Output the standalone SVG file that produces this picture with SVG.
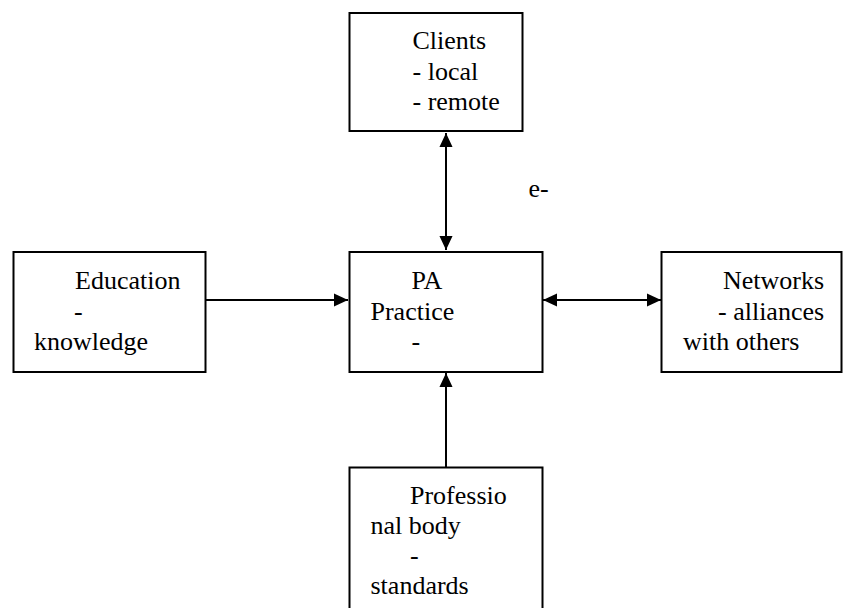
<svg xmlns="http://www.w3.org/2000/svg" width="843" height="608" viewBox="0 0 843 608">
<style>
.box{fill:#fff;stroke:#000;stroke-width:2}
.t{font-family:"Liberation Serif","Times New Roman",serif;font-size:26px;fill:#000}
.c{stroke:#000;stroke-width:2;fill:none}
</style>
<defs>
<marker id="ah" markerWidth="14" markerHeight="14" viewBox="0 0 15 14" refX="15" refY="7" orient="auto-start-reverse" markerUnits="userSpaceOnUse">
<path d="M0,0 L15,7 L0,14 Z" fill="#000"/>
</marker>
</defs>
<rect width="843" height="608" fill="#fff"/>
<g id="connectors">
<line class="c" x1="446" y1="133" x2="446" y2="250" marker-start="url(#ah)" marker-end="url(#ah)"/>
<line class="c" x1="206" y1="300" x2="348" y2="300" marker-end="url(#ah)"/>
<line class="c" x1="543" y1="300" x2="661" y2="300" marker-start="url(#ah)" marker-end="url(#ah)"/>
<line class="c" x1="446" y1="467" x2="446" y2="373" marker-end="url(#ah)"/>
<text class="t" x="528.5" y="197">e-</text>
</g>
<g id="clients">
<rect class="box" x="349.5" y="13" width="173" height="118"/>
<text class="t" x="412.5" y="49">Clients</text>
<text class="t" x="412.5" y="80">- local</text>
<text class="t" x="412.5" y="110">- remote</text>
</g>
<g id="education">
<rect class="box" x="13.5" y="252" width="192" height="120"/>
<text class="t" x="75" y="289">Education</text>
<text class="t" x="74" y="320">-</text>
<text class="t" x="34" y="350">knowledge</text>
</g>
<g id="practice">
<rect class="box" x="349.5" y="252" width="193" height="120"/>
<text class="t" x="411.5" y="289">PA</text>
<text class="t" x="370.5" y="320">Practice</text>
<text class="t" x="411.5" y="350">-</text>
</g>
<g id="networks">
<rect class="box" x="661.5" y="252" width="180" height="120"/>
<text class="t" x="723" y="289">Networks</text>
<text class="t" x="718" y="320">- alliances</text>
<text class="t" x="683" y="350">with others</text>
</g>
<g id="professional">
<rect class="box" x="349.5" y="467.5" width="193" height="160"/>
<text class="t" x="410" y="504">Professio</text>
<text class="t" x="370.5" y="534">nal body</text>
<text class="t" x="410" y="564">-</text>
<text class="t" x="370.5" y="594">standards</text>
</g>
</svg>
